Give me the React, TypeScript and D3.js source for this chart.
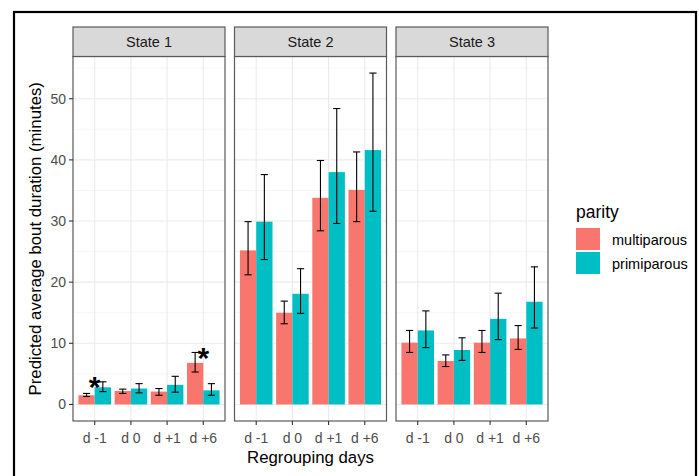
import React from "react";
import * as d3 from "d3";

const states = ["State 1", "State 2", "State 3"];
const categories = ["d -1", "d 0", "d +1", "d +6"];
const parity = ["multiparous", "primiparous"];
const colors = ["#F8766D", "#00BFC4"];

// values per state, per category
const multiValue = [
  [1.5, 2.2, 2.1, 6.8],
  [25.2, 15.0, 33.8, 35.1],
  [10.1, 7.1, 10.1, 10.8],
];
const multiLower = [
  [1.3, 1.8, 1.5, 5.3],
  [21.2, 13.2, 28.4, 29.9],
  [8.5, 6.2, 8.5, 9.0],
];
const multiUpper = [
  [1.8, 2.5, 2.6, 8.5],
  [29.9, 16.9, 39.9, 41.3],
  [12.1, 8.1, 12.1, 12.9],
];
const primiValue = [
  [2.8, 2.6, 3.2, 2.3],
  [29.9, 18.1, 38.0, 41.6],
  [12.1, 8.9, 14.0, 16.8],
];
const primiLower = [
  [2.1, 1.9, 2.0, 1.5],
  [23.7, 14.9, 29.6, 31.6],
  [9.3, 7.2, 10.6, 12.5],
];
const primiUpper = [
  [3.7, 3.4, 4.6, 3.4],
  [37.6, 22.2, 48.4, 54.2],
  [15.3, 10.9, 18.2, 22.5],
];
// significance markers: state index, category, y position
const starState = [0, 0];
const starCategory = ["d -1", "d +6"];
const starY = [3.8, 8.5];

const yTicks = [0, 10, 20, 30, 40, 50];
const yMinor = [5, 15, 25, 35, 45, 55];

const W = 699;
const H = 476;
const font = "'Liberation Sans', Arial, sans-serif";

export default function App() {
  const panelLeft0 = 73;
  const panelW = 152;
  const gap = 9.5;
  const panelTop = 56.5;
  const panelBottom = 421;
  const stripTop = 27;

  const allMax = d3.max([...multiUpper.flat(), ...primiUpper.flat()]) as number;
  const pad = allMax * 0.05;
  const y = d3.scaleLinear().domain([-pad, allMax + pad]).range([panelBottom, panelTop]);

  const panels = states.map((s, si) => {
    const left = panelLeft0 + si * (panelW + gap);
    const x = d3
      .scaleBand<string>()
      .domain(categories)
      .range([left, left + panelW])
      .paddingInner(0)
      .paddingOuter(0.1);
    const step = x.step();
    const inner = d3
      .scaleBand<string>()
      .domain(parity)
      .range([-0.45 * step, 0.45 * step]);
    return { s, si, left, x, step, inner };
  });

  const series = [
    { v: multiValue, lo: multiLower, hi: multiUpper },
    { v: primiValue, lo: primiLower, hi: primiUpper },
  ];

  const gridColor = "#ebebeb";
  const borderColor = "#5a5a5a";
  const plotCenterX = (panelLeft0 + panels[2].left + panelW) / 2;

  return (
    <svg
      width={W}
      height={H}
      style={{ position: "absolute", left: 0, top: 0, background: "#fff" }}
      fontFamily={font}
    >
      <rect x={0} y={0} width={W} height={H} fill="#fff" />
      {panels.map(({ s, si, left, x, step, inner }) => {
        const cx = (c: string) => (x(c) as number) + step / 2;
        return (
          <g key={s}>
            <rect x={left} y={panelTop} width={panelW} height={panelBottom - panelTop} fill="#fff" />
            {yMinor.map((t) => (
              <line key={"mi" + t} x1={left} x2={left + panelW} y1={y(t)} y2={y(t)} stroke="#f4f4f4" strokeWidth={0.8} />
            ))}
            {yTicks.map((t) => (
              <line key={"ma" + t} x1={left} x2={left + panelW} y1={y(t)} y2={y(t)} stroke={gridColor} strokeWidth={1.1} />
            ))}
            {categories.map((c) => (
              <line key={"v" + c} x1={cx(c)} x2={cx(c)} y1={panelTop} y2={panelBottom} stroke={gridColor} strokeWidth={1.1} />
            ))}
            {series.map((ser, pi) =>
              categories.map((c, ci) => {
                const bx = cx(c) + (inner(parity[pi]) as number);
                const bw = inner.bandwidth();
                const v = ser.v[si][ci];
                return (
                  <rect key={pi + c} x={bx} width={bw} y={y(v)} height={y(0) - y(v)} fill={colors[pi]} />
                );
              })
            )}
            {series.map((ser, pi) =>
              categories.map((c, ci) => {
                const mx = cx(c) + (inner(parity[pi]) as number) + inner.bandwidth() / 2;
                const lo = y(ser.lo[si][ci]);
                const hi = y(ser.hi[si][ci]);
                const hw = 3.6;
                return (
                  <g key={"e" + pi + c} stroke="#000" strokeWidth={1.1}>
                    <line x1={mx} x2={mx} y1={lo} y2={hi} />
                    <line x1={mx - hw} x2={mx + hw} y1={lo} y2={lo} />
                    <line x1={mx - hw} x2={mx + hw} y1={hi} y2={hi} />
                  </g>
                );
              })
            )}
            {starState.map((st, k) =>
              st === si ? (
                <text
                  key={"s" + k}
                  x={cx(starCategory[k])}
                  y={y(starY[k]) + 16}
                  textAnchor="middle"
                  fontSize={30}
                  fontWeight="bold"
                  fill="#000"
                >
                  *
                </text>
              ) : null
            )}
            <rect
              x={left}
              y={panelTop}
              width={panelW}
              height={panelBottom - panelTop}
              fill="none"
              stroke={borderColor}
              strokeWidth={1.2}
            />
            <rect
              x={left}
              y={stripTop}
              width={panelW}
              height={panelTop - stripTop}
              fill="#d9d9d9"
              stroke={borderColor}
              strokeWidth={1.2}
            />
            <text
              x={left + panelW / 2}
              y={(stripTop + panelTop) / 2}
              dy="0.35em"
              textAnchor="middle"
              fontSize={14.5}
              fill="#1a1a1a"
            >
              {s}
            </text>
            {categories.map((c) => (
              <g key={"xt" + c}>
                <line x1={cx(c)} x2={cx(c)} y1={panelBottom} y2={panelBottom + 4} stroke="#333" strokeWidth={1.1} />
                <text x={cx(c)} y={panelBottom + 17} dy="0.35em" textAnchor="middle" fontSize={14} fill="#4d4d4d">
                  {c}
                </text>
              </g>
            ))}
          </g>
        );
      })}
      {yTicks.map((t) => (
        <g key={"yt" + t}>
          <line x1={panelLeft0 - 4} x2={panelLeft0} y1={y(t)} y2={y(t)} stroke="#333" strokeWidth={1.1} />
          <text x={panelLeft0 - 7} y={y(t)} dy="0.35em" textAnchor="end" fontSize={14} fill="#4d4d4d">
            {t}
          </text>
        </g>
      ))}
      <text
        transform={`translate(35,${(panelTop + panelBottom) / 2}) rotate(-90)`}
        textAnchor="middle"
        dy="0.35em"
        fontSize={16.8}
        fill="#000"
      >
        Predicted average bout duration (minutes)
      </text>
      <text x={plotCenterX} y={457} dy="0.35em" textAnchor="middle" fontSize={16.8} fill="#000">
        Regrouping days
      </text>
      <text x={576} y={212} dy="0.35em" fontSize={17.5} fill="#000">
        parity
      </text>
      {parity.map((p, i) => (
        <g key={p}>
          <rect x={576} y={228 + i * 24} width={24} height={22} fill={colors[i]} />
          <text x={612} y={239.5 + i * 24} dy="0.35em" fontSize={14.5} fill="#000">
            {p}
          </text>
        </g>
      ))}
      <rect x={14} y={12} width={682} height={H} fill="none" stroke="#000" strokeWidth={2.2} />
    </svg>
  );
}
